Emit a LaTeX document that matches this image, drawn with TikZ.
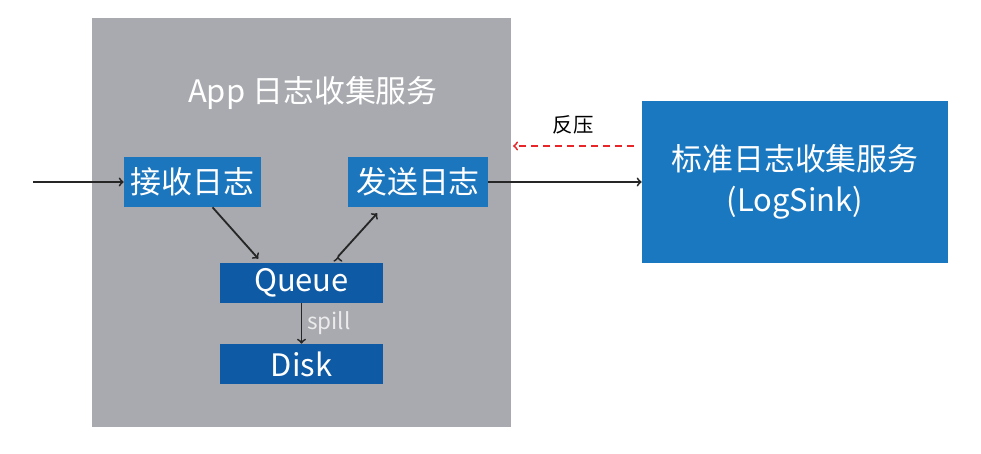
\documentclass[tikz,border=0pt]{standalone}
\usepackage{fontspec}
\setmainfont{Noto Sans CJK SC}
\usepackage{tikz}
\usetikzlibrary{arrows}
\definecolor{panelgray}{HTML}{A9AAAF}
\definecolor{stageblue}{HTML}{1B76BE}
\definecolor{storeblue}{HTML}{0F5AA4}
\definecolor{sinkblue}{HTML}{1A78C1}
\definecolor{pushred}{HTML}{E8262A}
\tikzset{
  stage node/.style={fill=stageblue,text=white,inner sep=0pt,minimum height=1.25cm,font=\fontsize{22}{26}\selectfont},
  store node/.style={fill=storeblue,text=white,inner sep=0pt,minimum width=4.075cm,minimum height=1cm,font=\fontsize{22}{26}\selectfont},
  sink node/.style={fill=sinkblue,text=white,inner sep=0pt,minimum width=7.65cm,minimum height=4.05cm,align=center,font=\fontsize{22}{29}\selectfont},
  flow/.style={line width=1.3pt,draw=black!85}
}

\begin{document}
\begin{tikzpicture}[->,>=to,x=0.025cm,y=0.025cm]

    \useasboundingbox[fill=white] (0,0) rectangle (981,454);
    \fill[panelgray] (92,27) rectangle (511,436);

    \node[text=white,font=\fontsize{22}{26}\selectfont] (title) at (313,361) {App 日志收集服务};

    \node[stage node,minimum width=3.425cm] (recv) at (192.5,272) {接收日志};
    \node[stage node,minimum width=3.5cm] (send) at (418,272) {发送日志};

    \node[store node] (queue) at (301.5,171) {Queue};
    \node[store node] (disk) at (301.5,90) {Disk};

    \node[sink node] (sink) at (795,272) {标准日志收集服务\\(LogSink)};

    \coordinate (in) at (33,272);

    \path[flow]
      (in) edge (recv)
      ([xshift=0.5cm]recv.south) edge ([xshift=-1.08cm,yshift=0.1cm]queue.north)
      ([xshift=0.91cm,yshift=0.15cm]queue.north) edge ([xshift=-1.02cm,yshift=-0.15cm]send.south)
      (queue) edge node[right,text=white!92!black,font=\fontsize{16}{18}\selectfont] {spill} (disk)
      (send) edge (sink);

    \draw[pushred,dashed,dash pattern=on 5pt off 3.5pt,line width=1.3pt]
      ([xshift=-0.2cm,yshift=0.9cm]sink.west) -- node[above=0.15cm,text=black,font=\fontsize{14.5}{17}\selectfont] (backlabel) {反压} ([xshift=0.05cm,yshift=0.9cm]send.east -| 511,0);
\end{tikzpicture}
\end{document}
